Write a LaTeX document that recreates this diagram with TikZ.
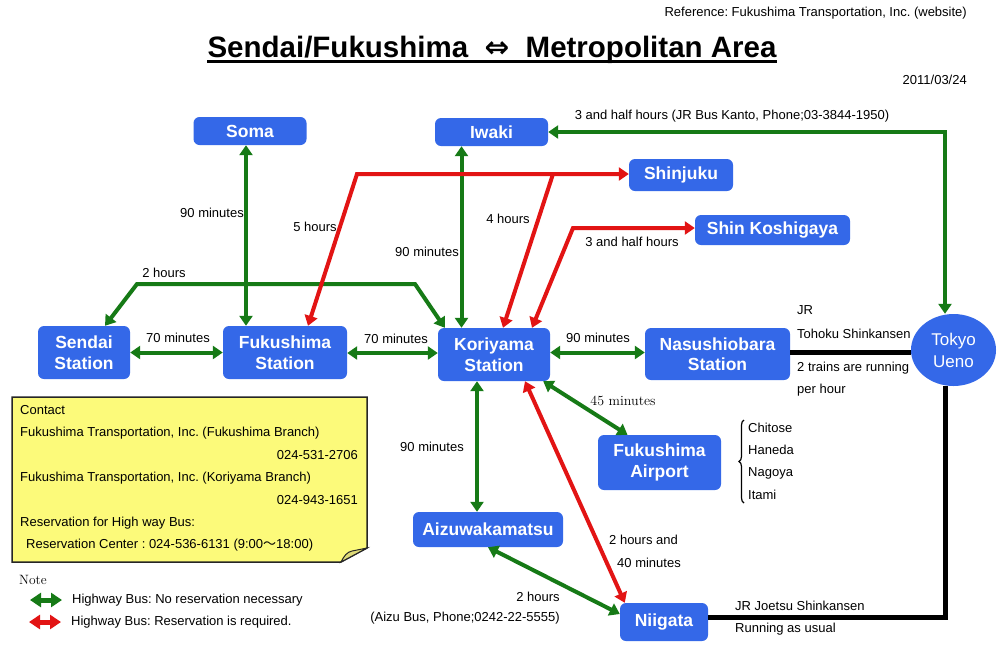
\documentclass[tikz,border=0pt]{standalone}
\usepackage{fontspec}
\setsansfont{Liberation Sans}
\newfontfamily\symbfont{DejaVu Sans}
\newfontfamily\cjkfont{Noto Sans CJK JP}
\usepackage{tikz}
\usetikzlibrary{arrows.meta,shapes.geometric,decorations.pathreplacing}
\definecolor{placeblue}{RGB}{52,104,232}
\definecolor{busgreen}{RGB}{22,122,22}
\definecolor{busred}{RGB}{226,20,20}
\definecolor{noteyellow}{RGB}{252,250,122}
\definecolor{notefold}{RGB}{222,218,120}
\tikzset{
  place/.style={fill=placeblue, rounded corners=6pt, text=white, align=center,
    font=\sffamily\bfseries\fontsize{17.5}{20.5}\selectfont, inner sep=0pt},
  lbl/.style={font=\sffamily\fontsize{13}{15}\selectfont, inner sep=0pt},
  gbus/.style={busgreen, line width=4pt},
  rbus/.style={busred, line width=4pt},
  train/.style={black, line width=5pt},
}
\frenchspacing

\begin{document}
\begin{tikzpicture}[x=1pt,y=-1pt,>={Triangle[length=10pt,width=13pt]}]
      \fill[white] (0,0) rectangle (1003,649);
      \useasboundingbox (0,0) rectangle (1003,649);

      % heading
      \node[lbl, anchor=east] (ref) at (967,13) {Reference: Fukushima Transportation, Inc. (website)};
      \node[font=\sffamily\bfseries\fontsize{29.5}{34}\selectfont, inner sep=0pt, anchor=base] (title) at (492,57)
        {Sendai/Fukushima\ \ {\symbfont\bfseries ⇔}\ \ Metropolitan Area};
      \draw[line width=2.5pt] ([yshift=-4.5pt]title.base west) -- ([yshift=-4.5pt]title.base east);
      \node[lbl, anchor=east] (date) at (967,80) {2011/03/24};

      % places
      \node[place, minimum width=113pt, minimum height=28pt] (soma) at (250,131) {Soma};
      \node[place, minimum width=113pt, minimum height=28pt] (iwaki) at (491.5,132) {Iwaki};
      \node[place, minimum width=104pt, minimum height=32pt] (shinjuku) at (681,175) {Shinjuku};
      \node[place, minimum width=155pt, minimum height=30pt] (shinkoshi) at (772.5,230) {Shin Koshigaya};
      \node[place, minimum width=92pt, minimum height=53pt] (sendai) at (84,352.5) {Sendai\\Station};
      \node[place, minimum width=124pt, minimum height=53pt] (fukushima) at (285,352.5) {Fukushima\\Station};
      \node[place, minimum width=112pt, minimum height=53pt] (koriyama) at (494,354.5) {Koriyama\\Station};
      \node[place, minimum width=145pt, minimum height=52pt] (nasu) at (717.5,354) {Nasushiobara\\Station};
      \node[ellipse, fill=placeblue, text=white, align=center, inner sep=0pt, minimum width=85pt, minimum height=72pt,
        font=\sffamily\fontsize{17}{22}\selectfont] (tokyo) at (953.5,350) {Tokyo\\Ueno};
      \node[place, minimum width=123pt, minimum height=55pt] (airport) at (659.5,462.5) {Fukushima\\Airport};
      \node[place, minimum width=150pt, minimum height=35pt] (aizu) at (488,529.5) {Aizuwakamatsu};
      \node[place, minimum width=88pt, minimum height=38pt] (niigata) at (664,622) {Niigata};

      % bends
      \coordinate (g1) at (137,284);
      \coordinate (g2) at (415,284);
      \coordinate (r1) at (357,174);
      \coordinate (r2) at (553,174);
      \coordinate (r3) at (573,228);
      \coordinate (t1) at (945,132);
      \coordinate (t2) at (945,617);

      % highway bus, green
      \draw[gbus, <->] (sendai.east) -- (fukushima.west);
      \draw[gbus, <->] ([yshift=-0.5pt]fukushima.east) -- ([yshift=-0.5pt]fukushima.east -| koriyama.west);
      \draw[gbus, <->] ([xshift=-4pt]soma.south) -- ([xshift=-4pt]soma.south |- fukushima.north);
      \draw[gbus, <->] ([xshift=-30pt]iwaki.south) -- ([xshift=-30pt]iwaki.south |- koriyama.north);
      \draw[gbus, <->] ([xshift=21pt]sendai.north) -- (g1) -- (g2) -- ([xshift=7pt]koriyama.north west);
      \draw[gbus, <->] (iwaki.east) -- (t1) -- (t1 |- tokyo.north);
      \draw[gbus, <->] ([yshift=2pt]koriyama.east) -- ([yshift=2pt]koriyama.east -| nasu.west);
      \draw[gbus, <->] ([xshift=-7pt]koriyama.south east) -- ([xshift=-32pt]airport.north);
      \draw[gbus, <->] ([xshift=-17pt]koriyama.south) -- ([xshift=-17pt]koriyama.south |- aizu.north);
      \draw[gbus, <->] (aizu.south) -- ([yshift=8pt]niigata.west);

      % highway bus, red
      \draw[rbus, <->] ([xshift=23pt]fukushima.north) -- (r1) -- (r1 -| shinjuku.west);
      \draw[rbus, ->] (r2) -- ([xshift=9pt]koriyama.north);
      \draw[rbus, <->] ([xshift=38pt]koriyama.north) -- (r3) -- (r3 -| shinkoshi.west);
      \draw[rbus, <->] ([xshift=31pt]koriyama.south) -- ([xshift=5pt]niigata.north west);

      % shinkansen
      \draw[train] ([yshift=2pt]nasu.east) -- ([yshift=2pt]nasu.east -| tokyo.west);
      \draw[train] (t2 |- tokyo.south) -- (t2) -- (t2 -| niigata.east);

      % times
      \node[lbl, anchor=east] (l1) at (244,213) {90 minutes};
      \node[lbl] (l2) at (315,227) {5 hours};
      \node[lbl, anchor=east] (l3) at (459,252) {90 minutes};
      \node[lbl] (l4) at (508,219) {4 hours};
      \node[lbl] (l5) at (164,273) {2 hours};
      \node[lbl] (l6) at (178,338) {70 minutes};
      \node[lbl] (l7) at (396,339) {70 minutes};
      \node[lbl] (l8) at (732,116) {3 and half hours (JR Bus Kanto, Phone;03-3844-1950)};
      \node[lbl] (l9) at (632,242) {3 and half hours};
      \node[lbl] (l10) at (598,338) {90 minutes};
      \node[lbl, anchor=west] (jr1) at (797,310) {JR};
      \node[lbl, anchor=west] (jr2) at (797,334) {Tohoku Shinkansen};
      \node[lbl, anchor=west] (jr3) at (797,368) {2 trains are running};
      \node[lbl, anchor=west] (jr4) at (797,390) {per hour};
      \node[font=\fontsize{14}{16}\selectfont, inner sep=0pt] (l11) at (623,401) {45 minutes};
      \node[lbl] (l12) at (432,447) {90 minutes};
      \node[lbl, anchor=west] (l13) at (609,540) {2 hours and};
      \node[lbl, anchor=west] (l14) at (617,563) {40 minutes};
      \node[lbl] (l15) at (538,597) {2 hours};
      \node[lbl] (l16) at (465,618) {(Aizu Bus, Phone;0242-22-5555)};
      \node[lbl, anchor=west] (jr5) at (735,606) {JR Joetsu Shinkansen};
      \node[lbl, anchor=west] (jr6) at (735,629) {Running as usual};

      % flights
      \draw[line width=1.2pt, decorate, decoration={brace, amplitude=5pt}] (744,503) -- (744,420);
      \node[lbl, anchor=west] (f1) at (748,428) {Chitose};
      \node[lbl, anchor=west] (f2) at (748,450) {Haneda};
      \node[lbl, anchor=west] (f3) at (748,473) {Nagoya};
      \node[lbl, anchor=west] (f4) at (748,495) {Itami};

      % contact note
      \filldraw[fill=noteyellow, draw=black!85, line width=1.5pt] (12,397) -- (367,397) -- (367,548) -- (341,562) -- (12,562) -- cycle;
      \filldraw[fill=notefold, draw=black!85, line width=1pt] (341,562) .. controls (344,556) and (347,552) .. (352,551) -- (367,548) -- cycle;
      \node[lbl, anchor=west] (c1) at (20,410) {Contact};
      \node[lbl, anchor=west] (c2) at (20,433) {Fukushima Transportation, Inc. (Fukushima Branch)};
      \node[lbl, anchor=east] (c3) at (358,455) {024-531-2706};
      \node[lbl, anchor=west] (c4) at (20,478) {Fukushima Transportation, Inc. (Koriyama Branch)};
      \node[lbl, anchor=east] (c5) at (358,500) {024-943-1651};
      \node[lbl, anchor=west] (c6) at (20,523) {Reservation for High way Bus:};
      \node[lbl, anchor=west] (c7) at (26,545) {Reservation Center : 024-536-6131 (9:00{\cjkfont ～}18:00)};

      % legend
      \node[font=\fontsize{13.5}{16}\selectfont, inner sep=0pt, anchor=west] (note) at (19,580) {Note};
      \coordinate (k1) at (30,600);
      \coordinate (k2) at (62,600);
      \coordinate (k3) at (29,622);
      \coordinate (k4) at (61,622);
      \draw[busgreen, line width=5pt, {Triangle[length=11pt,width=14pt]}-{Triangle[length=11pt,width=14pt]}] (k1) -- (k2);
      \draw[busred, line width=5pt, {Triangle[length=11pt,width=14pt]}-{Triangle[length=11pt,width=14pt]}] (k3) -- (k4);
      \node[lbl, anchor=west] (n1) at (72,600) {Highway Bus: No reservation necessary};
      \node[lbl, anchor=west] (n2) at (71,622) {Highway Bus: Reservation is required.};
    \end{tikzpicture}
\end{document}
